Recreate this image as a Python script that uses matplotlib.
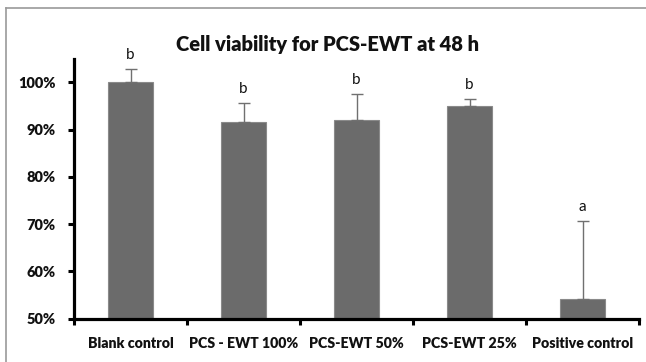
import matplotlib
matplotlib.use("Agg")
import matplotlib.pyplot as plt
from matplotlib.lines import Line2D
from matplotlib.ticker import FixedLocator, PercentFormatter
import numpy as np

categories = ["Blank control", "PCS - EWT 100%", "PCS-EWT 50%", "PCS-EWT 25%", "Positive control"]
viability = [100.0, 91.6, 92.0, 94.9, 54.1]
error_up = [2.8, 4.1, 5.6, 1.6, 16.6]
letters = ["b", "b", "b", "b", "a"]
yticks = [50, 60, 70, 80, 90, 100]

W, H = 646, 362
fig = plt.figure(figsize=(W / 100, H / 100), dpi=100)
ax = fig.add_axes([74 / W, 1 - 318.7 / H, (639 - 74) / W, (318.7 - 58.7) / H])

x = np.arange(len(categories))
bar_color = "#6b6b6b"
ax.bar(x, viability, width=0.4, color=bar_color, edgecolor="#8a8a8a", linewidth=0.8, zorder=2)
ax.errorbar(x, viability, yerr=[np.zeros(len(x)), error_up], fmt="none",
            ecolor="#707070", elinewidth=1.0, capsize=4, capthick=1.0, zorder=3)

for xi, v, e, l in zip(x, viability, error_up, letters):
    ax.text(xi, v + e + 1.5, l, ha="center", va="bottom", fontsize=11,
            family="Lato", color="#111111", clip_on=False)

ax.set_xlim(-0.5, len(categories) - 0.5)
ax.set_ylim(50, 105)
ax.set_yticks(yticks)
ax.yaxis.set_major_formatter(PercentFormatter(decimals=0))
ax.set_xticks(x)
ax.set_xticklabels(categories)
ax.xaxis.set_minor_locator(FixedLocator(np.arange(-0.5, len(categories), 1.0)))
ax.tick_params(axis="x", which="major", length=0, pad=13)
ax.tick_params(axis="x", which="minor", length=4, width=2.2, direction="out", color="black")
ax.tick_params(axis="y", length=4, width=2.2, pad=9, color="black")

for lab in ax.get_xticklabels():
    lab.set_fontfamily("Lato")
    lab.set_fontweight("heavy")
    lab.set_fontsize(10.2)
    lab.set_color("#111111")
for lab in ax.get_yticklabels():
    lab.set_fontfamily("Lato")
    lab.set_fontweight("heavy")
    lab.set_fontsize(10.5)
    lab.set_color("#111111")

for s in ["top", "right"]:
    ax.spines[s].set_visible(False)
for s in ["left", "bottom"]:
    ax.spines[s].set_linewidth(2.3)
    ax.spines[s].set_color("black")

fig.text(328 / W, 1 - 44 / H, "Cell viability for PCS-EWT at 48 h", ha="center", va="center",
         fontsize=14.5, fontweight="heavy", family="Lato", color="#111111")

bx, by = 6 / W, 1 - 8 / H
fig.add_artist(Line2D([bx, bx], [0, by], transform=fig.transFigure, color="#9a9a9a", linewidth=1.2))
fig.add_artist(Line2D([bx, 1], [by, by], transform=fig.transFigure, color="#9a9a9a", linewidth=1.2))

fig.savefig("out.png", dpi=100)
